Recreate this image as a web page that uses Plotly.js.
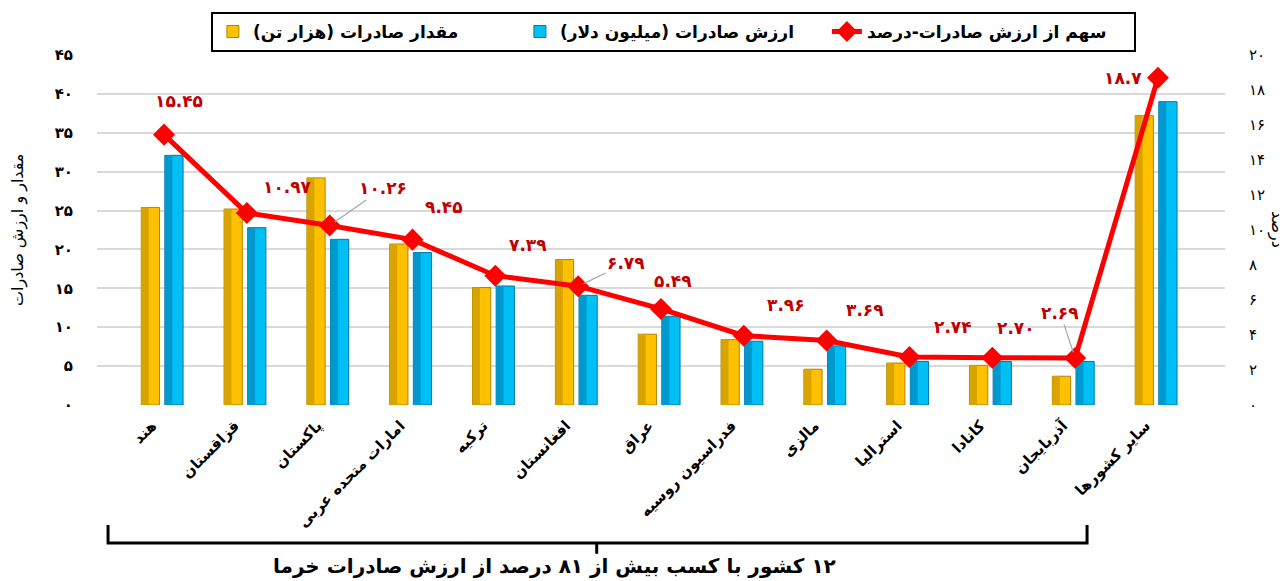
<!DOCTYPE html>
<html>
<head>
<meta charset="utf-8">
<script src="https://cdn.plot.ly/plotly-3.0.1.min.js"></script>
<style>html,body{margin:0;padding:0;background:#fff;}#chart{width:1287px;height:581px;}</style>
</head>
<body>
<div id="chart"></div>
<script>
// ---- data ----
const categories = ['هند','قزاقستان','پاکستان','امارات متحده عربی','ترکیه','افغانستان','عراق','فدراسیون روسیه','مالزی','استرالیا','کانادا','آذربایجان','سایر کشورها'];
const exportQuantity = [25.4, 25.2, 29.2, 20.7, 15.1, 18.7, 9.1, 8.4, 4.6, 5.4, 5.1, 3.7, 37.2];   // هزار تن
const exportValue    = [32.1, 22.8, 21.3, 19.6, 15.3, 14.1, 11.4, 8.2, 7.6, 5.6, 5.6, 5.6, 39.0];  // میلیون دلار
const shareLabels    = ['15.45','10.97','10.26','9.45','7.39','6.79','5.49','3.96','3.69','2.74','2.70','2.69','18.7']; // درصد
const leftTicks  = [0,5,10,15,20,25,30,35,40,45];
const rightTicks = [0,2,4,6,8,10,12,14,16,18,20];
const seriesNames = ['مقدار صادرات (هزار تن)','ارزش صادرات (میلیون دلار)','سهم از ارزش صادرات-درصد'];
const leftTitle = 'مقدار و ارزش صادرات';
const rightTitle = 'درصد';
const footnote = '۱۲ کشور با کسب بیش از ۸۱ درصد از ارزش صادرات خرما';

// ---- helpers ----
const fa = s => String(s).replace(/[0-9]/g, d => '۰۱۲۳۴۵۶۷۸۹'[d]);
const rtl = s => '\u202B' + s + '\u202C';
const shareValues = shareLabels.map(Number);
const FONT = 'DejaVu Sans';

// label offsets (px) of data labels relative to their markers
const labelOffsets = [[15,-34],[41,-26],[53,-37],[31,-33],[33,-31],[48,-23],[12,-28],[42,-31],[38,-30],[44,-30],[24,-30],[-15,-45],[-35,0]];
const leaderIdx = [2,5,11];

const traces = [
  {type:'bar', name:rtl(seriesNames[0]), x:categories, y:exportQuantity, offset:-0.275, width:0.22,
   marker:{color:'#FFC000', line:{color:'#B08600', width:1}}, hoverinfo:'y'},
  {type:'bar', showlegend:false, x:categories, y:exportQuantity, offset:-0.275, width:0.09,
   marker:{color:'#D9A300', line:{width:0}}, hoverinfo:'skip'},
  {type:'bar', name:rtl(seriesNames[1]), x:categories, y:exportValue, offset:0.01, width:0.22,
   marker:{color:'#00BFF5', line:{color:'#0077A8', width:1}}, hoverinfo:'y'},
  {type:'bar', showlegend:false, x:categories, y:exportValue, offset:0.01, width:0.09,
   marker:{color:'#0099CF', line:{width:0}}, hoverinfo:'skip'},
  {type:'scatter', mode:'lines+markers', name:rtl(seriesNames[2]), x:categories, y:shareValues, yaxis:'y2',
   line:{color:'#FF0000', width:5}, marker:{symbol:'diamond', size:17, color:'#FF0000'}}
];

const annotations = shareValues.map((v,i)=>({
  x:categories[i], y:v, xref:'x', yref:'y2', text:fa(shareLabels[i]),
  showarrow:true, arrowhead:0, arrowwidth:1.2,
  arrowcolor: leaderIdx.includes(i) ? '#A6A6A6' : 'rgba(0,0,0,0)',
  ax:labelOffsets[i][0], ay:labelOffsets[i][1], standoff:6,
  font:{family:FONT, size:17, color:'#C00000', weight:'bold'}
}));
annotations.push(
  {xref:'paper', yref:'paper', x:-0.070, xanchor:'center', y:0.5, text:rtl(leftTitle), textangle:-90, showarrow:false,
   font:{family:FONT, size:16, color:'#000'}},
  {xref:'paper', yref:'paper', x:1.046, xanchor:'center', y:0.5, text:rtl(rightTitle), textangle:90, showarrow:false,
   font:{family:FONT, size:16, color:'#000'}},
  {xref:'paper', yref:'paper', x:0.406, y:-0.5, text:rtl(footnote), showarrow:false,
   font:{family:FONT, size:20, color:'#000', weight:'bold'}}
);

const bracket = {type:'path', xref:'paper', yref:'paper',
  path:'M 0.0098 -0.343 L 0.0098 -0.394 L 0.8777 -0.394 L 0.8777 -0.343 M 0.443 -0.394 L 0.443 -0.425',
  line:{color:'#000', width:3}};

const layout = {
  width:1287, height:581,
  margin:{l:97, r:62, t:55, b:176},
  paper_bgcolor:'#fff', plot_bgcolor:'#fff',
  barmode:'overlay',
  font:{family:FONT, color:'#000'},
  showlegend:true,
  legend:{orientation:'h', x:0.511, xanchor:'center', y:1.123, yanchor:'top',
    bordercolor:'#000', borderwidth:2, bgcolor:'#fff', entrywidth:262,
    font:{family:FONT, size:17, color:'#000', weight:'bold'}, traceorder:'normal'},
  xaxis:{type:'category', tickangle:-45, tickfont:{family:FONT, size:15, weight:'bold'},
    showgrid:false, showline:false, ticks:'', ticklabelshift:-12, ticklabelstandoff:8},
  yaxis:{range:[0,45], tickvals:leftTicks, ticktext:leftTicks.map(fa),
    tickfont:{family:FONT, size:15, weight:'bold'}, showgrid:true, gridcolor:'#D9D9D9', gridwidth:2,
    zeroline:false, showline:false, ticks:'outside', ticklen:20, tickcolor:'rgba(0,0,0,0)'},
  yaxis2:{range:[0,20], overlaying:'y', side:'right', tickvals:rightTicks, ticktext:rightTicks.map(fa),
    tickfont:{family:FONT, size:15}, showgrid:false, zeroline:false, showline:false,
    ticks:'outside', ticklen:20, tickcolor:'rgba(0,0,0,0)'},
  annotations:annotations,
  shapes:[bracket]
};

Plotly.newPlot('chart', traces, layout, {displayModeBar:false, staticPlot:true});
</script>
</body>
</html>
